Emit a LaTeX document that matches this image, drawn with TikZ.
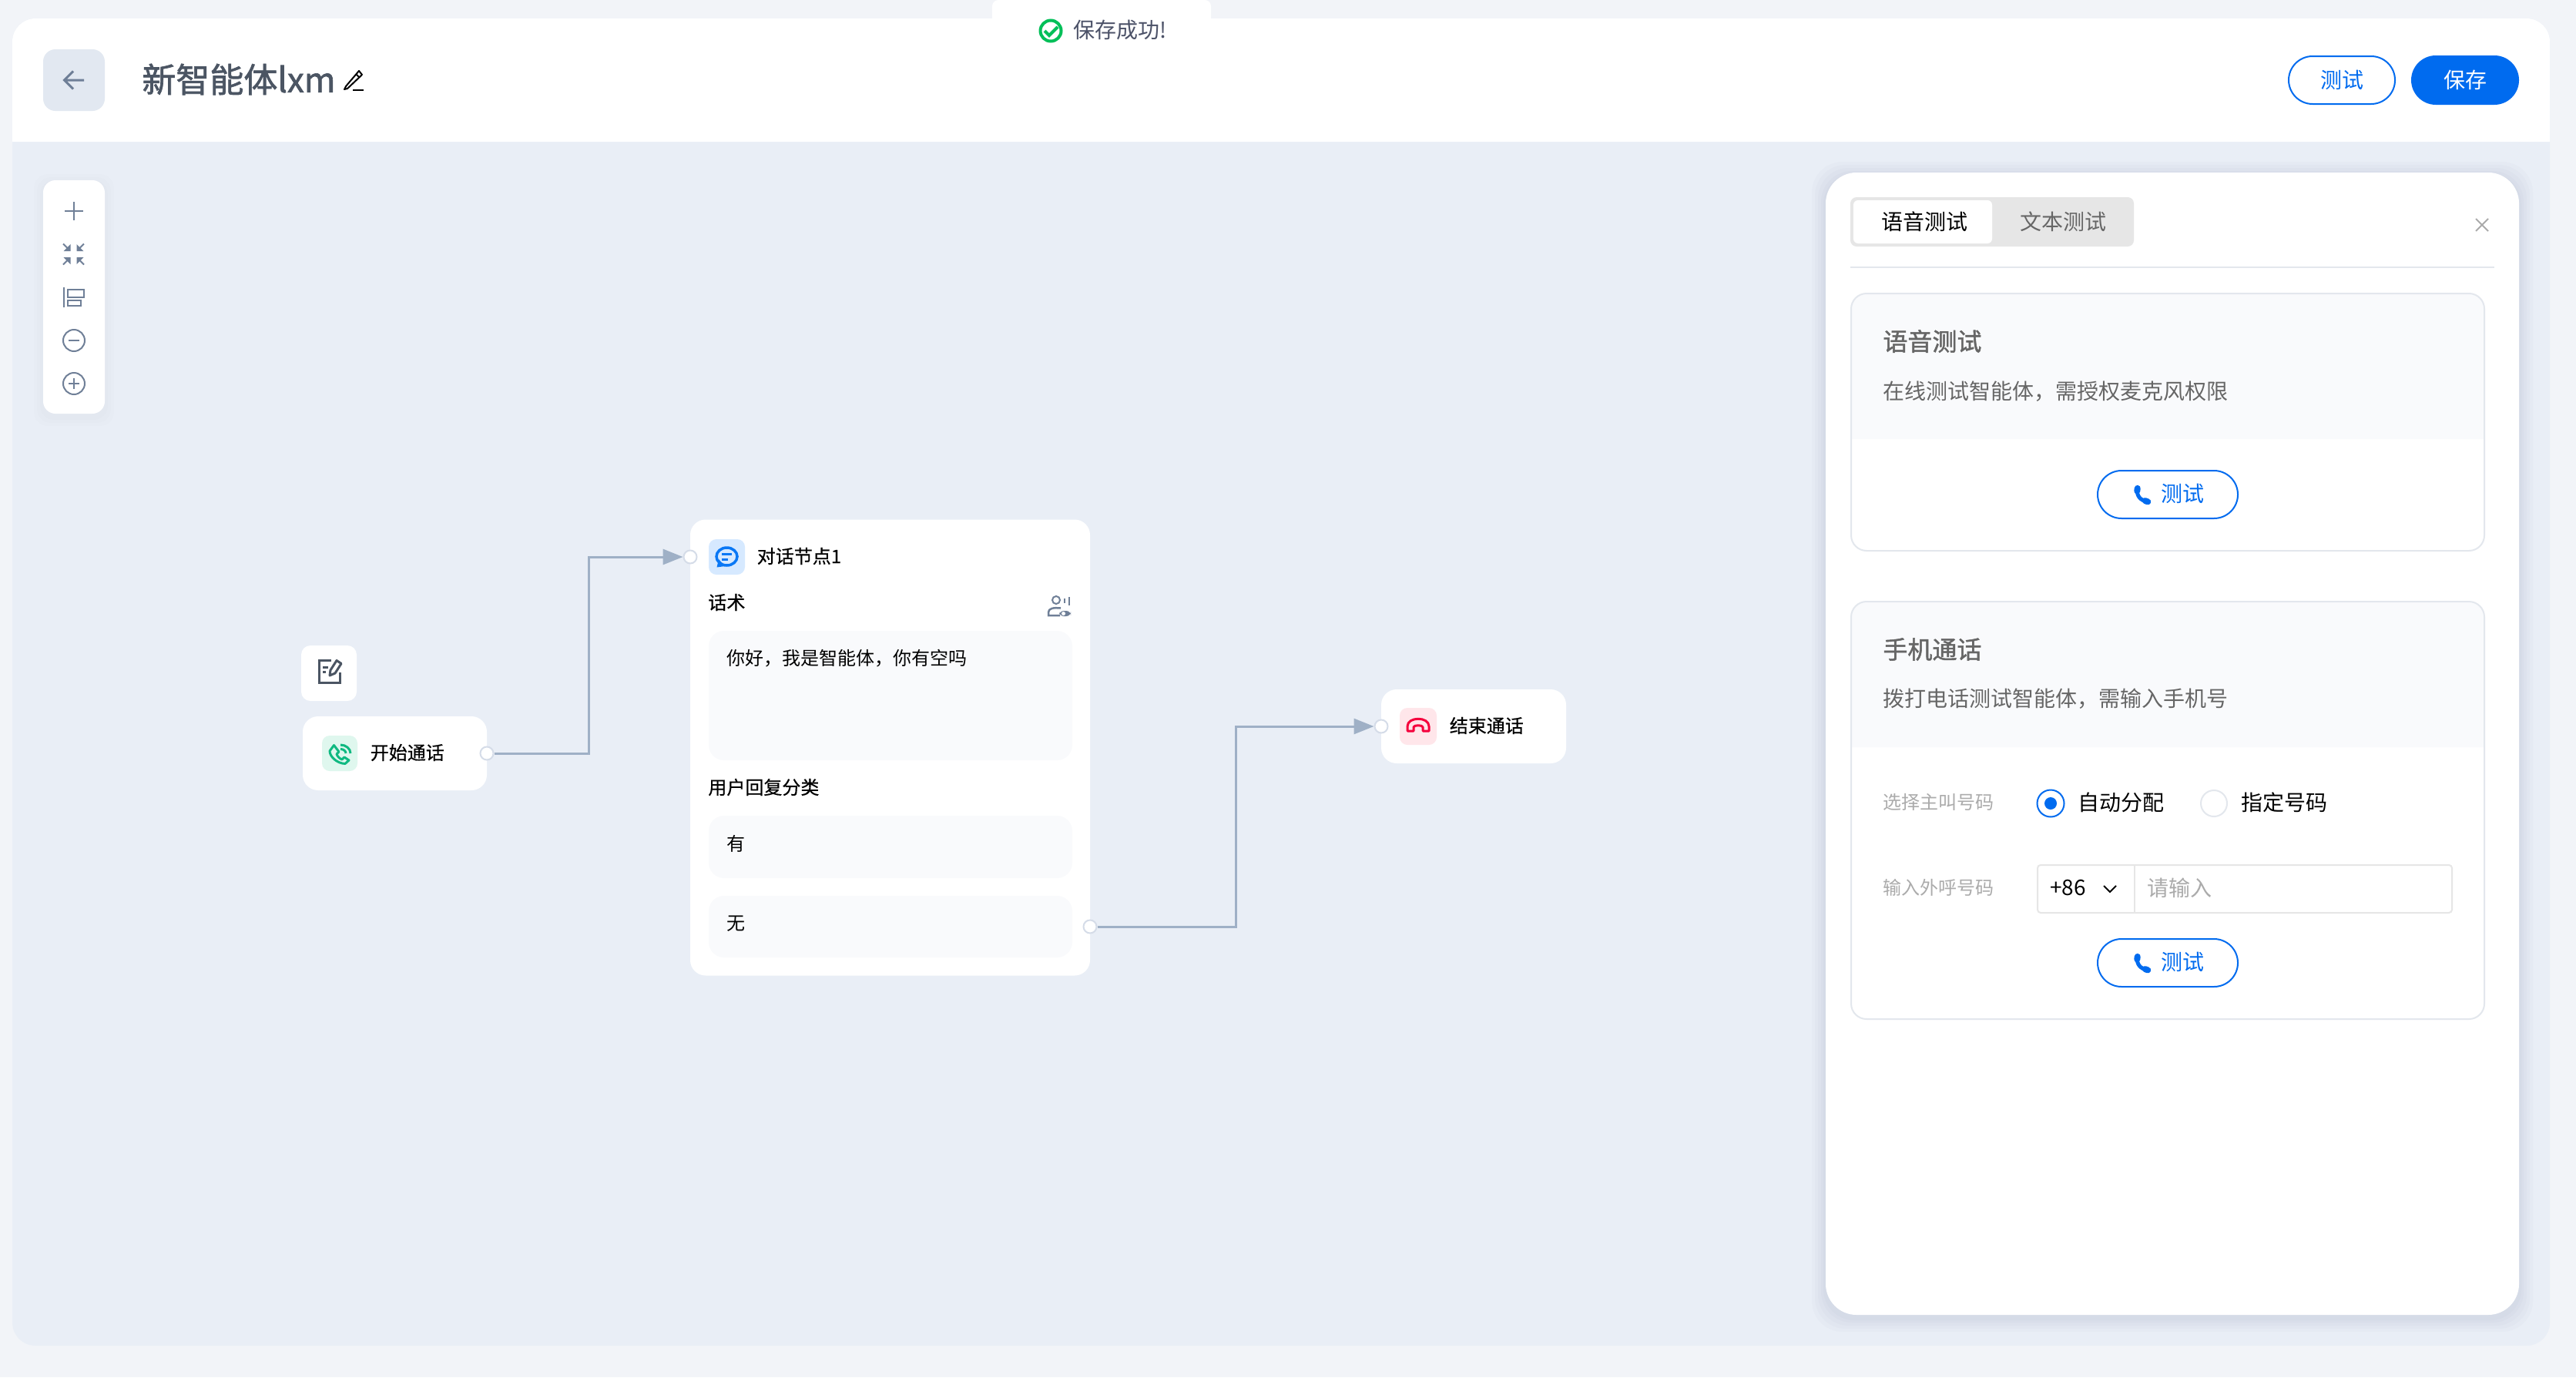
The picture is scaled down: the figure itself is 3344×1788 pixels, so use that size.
\documentclass[tikz,border=0pt]{standalone}
\usepackage{fontspec}
\setmainfont{Noto Sans CJK SC}
\newfontfamily\medfont[FakeBold=0.5]{Noto Sans CJK SC}
\newfontfamily\heavyfont[FakeBold=1.5]{Noto Sans CJK SC}
\usetikzlibrary{positioning}
\usetikzlibrary{arrows.meta}
\definecolor{pagebg}{HTML}{F2F4F8}
\definecolor{canvasbg}{HTML}{E9EEF6}
\definecolor{softbg}{HTML}{F9FAFC}
\definecolor{backbg}{HTML}{E2E8F1}
\definecolor{slate}{HTML}{6F7F97}
\definecolor{titleink}{HTML}{4B5563}
\definecolor{toastink}{HTML}{4C5268}
\definecolor{brand}{HTML}{006BEF}
\definecolor{chatblue}{HTML}{0A78F5}
\definecolor{flowline}{HTML}{9FB0C6}
\definecolor{portline}{HTML}{D5DCE8}
\definecolor{rimline}{HTML}{E3E7ED}
\definecolor{okgreen}{HTML}{00BF58}
\definecolor{callgreen}{HTML}{10B981}
\definecolor{callbg}{HTML}{DFF7EE}
\definecolor{chatbg}{HTML}{D6E9FF}
\definecolor{endred}{HTML}{F5003C}
\definecolor{endbg}{HTML}{FFE6EA}
\definecolor{tabbg}{HTML}{E6E6E6}
\definecolor{greyink}{HTML}{666666}
\definecolor{paleink}{HTML}{ABABAB}
\tikzset{%
  card/.style 2 args = {rectangle,fill=white,inner sep=0pt,rounded corners=10pt,
        minimum width=#1*0.5pt,minimum height=#2*0.5pt},
  iconbox/.style 2 args = {rectangle,inner sep=0pt,rounded corners=5pt,
        minimum width=#1*0.5pt,minimum height=#2*0.5pt},
  pill/.style = {rectangle,draw=brand,line width=1pt,fill=white,inner sep=0pt,
        rounded corners=15.5pt,minimum width=91pt,minimum height=31pt},
  port/.style = {circle,draw=portline,line width=1pt,fill=white,inner sep=0pt,
        minimum size=8.5pt},
  flow/.style = {draw=flowline,line width=1.5pt,-{Triangle[length=13pt,width=10pt]}},
  txt/.style = {inner sep=0pt,anchor=west,text=black,xshift=-0.5pt,yshift=0.5pt},
  f12/.style = {font=\fontsize{12pt}{14pt}\selectfont},
  f14/.style = {font=\fontsize{14pt}{16pt}\selectfont},
  m12/.style = {font=\fontsize{12pt}{14pt}\medfont},
  m16/.style = {font=\fontsize{16pt}{18pt}\heavyfont},
  tool/.style = {draw=slate,line width=1pt},
  handset/.pic = {
    \draw[line width=2.5pt,line cap=round] (-7,-8) .. controls (-9,2) and (-2,9) .. (7,10);
    \draw[line width=4pt,line cap=round] (-7,-9) -- (-7.5,-5);
    \draw[line width=4pt,line cap=round] (4,9) -- (8,10.5);
  }
}
\begin{document}
\begin{tikzpicture}[x=0.5pt,y=-0.5pt]
  \useasboundingbox (0,0) rectangle (3344,1788);
  \fill[pagebg] (0,0) rectangle (3344,1788);

  % main frame
  \fill[canvasbg,rounded corners=15pt] (16,24) rectangle (3310,1747);
  \fill[white] (16,184) {[rounded corners=15pt] -- (16,24) -- (3310,24)} -- (3310,184) -- cycle;
  \fill[white,rounded corners=4pt] (1288,0) rectangle (1572,80);

  % toast
  \node[circle,draw=okgreen,line width=2pt,minimum size=13.5pt,inner sep=0pt] (okmark) at (1364,40) {};
  \draw[okgreen,line width=2pt] (1356,40) -- (1362,46) -- (1373,35);
  \node[txt,f14,right=7.5pt of okmark,text=toastink] (toast) {保存成功!};

  % header
  \node[iconbox={80}{80},fill=backbg,rounded corners=8pt] (back) at (96,104) {};
  \draw[slate,line width=1.5pt] (109,104) -- (84,104) (95,92.5) -- (83.5,104) -- (95,115.5);
  \node[txt,text=titleink,font=\fontsize{22pt}{24pt}\heavyfont] (title) at (185,104) {新智能体lxm};
  \draw[black,line width=1pt,line join=round] (449,112) -- (447,116) -- (451,115) -- (470,97) -- (466,92) -- cycle (462,96) -- (467,101);
  \draw[black,line width=1pt] (458,116.5) -- (472,116.5);
  \node[pill,minimum width=69pt,minimum height=31pt] (testbtn) at (3040,104) {};
  \node[f14,text=brand,inner sep=0pt] (testtxt) at (testbtn) {测试};
  \node[iconbox={140}{64},fill=brand,rounded corners=16pt] (savebtn) at (3200,104) {};
  \node[f14,text=white,inner sep=0pt] (savetxt) at (savebtn) {保存};

  % toolbar
  \foreach \s in {12,8,4}
    \fill[slate,opacity=0.012,rounded corners=9pt] (56-\s,234-\s+4) rectangle (136+\s,537+\s+4);
  \node[card={80}{303},rounded corners=8pt] (toolbar) at (96,385.5) {};
  \draw[tool] (84,274) -- (108,274) (96,262) -- (96,286);
  \foreach \sx/\sy in {-1/-1,1/-1,-1/1,1/1}{
    \fill[slate] (95.5+4*\sx,330+4*\sy) -- ++(9*\sx,0) -- ++(-9*\sx,9*\sy) -- cycle;
    \draw[slate,line width=1pt] (95.5+5*\sx,330+5*\sy) -- (95.5+13.5*\sx,330+13.5*\sy);
  }
  \draw[tool] (83,372.5) -- (83,399);
  \draw[tool] (87.5,376) rectangle (108.5,386);
  \draw[tool] (87.5,389.5) rectangle (104.5,397);
  \draw[tool] (96,442) circle[radius=14];
  \draw[tool] (89,442) -- (103,442);
  \draw[tool] (96,498) circle[radius=14];
  \draw[tool] (89,498) -- (103,498) (96,491) -- (96,505);

  % flow nodes
  \node[card={72}{72},rounded corners=6pt] (editbox) at (427,874) {};
  \draw[titleink,line width=1.5pt] (430,857.5) -- (414.5,857.5) -- (414.5,886.5) -- (441,886.5) -- (441,873);
  \draw[titleink,line width=1.5pt] (419,866) -- (426,866) (419,872.5) -- (423,872.5);
  \draw[titleink,line width=1.5pt,line join=round] (428,877) -- (429,870) -- (437,857.5) -- (443,861.5) -- (435,874) -- cycle;

  \node[card={239}{96}] (start) at (512.5,978) {};
  \node[iconbox={46}{46},fill=callbg] (starticon) at (441,978) {};
  \draw[callgreen,line width=1.5pt,line join=round] (433.5,967.5) -- (440,976) -- (437,979) .. controls (438,982) and (441,985) .. (444,986) -- (447,983) -- (453,987) -- (448,991.5) .. controls (437,991) and (428,982) .. (428,975) -- cycle;
  \draw[callgreen,line width=1.5pt] (442,967) .. controls (449,967) and (455,972) .. (455,978)
    (442,972.5) .. controls (446,972.5) and (449,975) .. (449,978);
  \node[txt,m12,right=8.5pt of starticon] (starttxt) {开始通话};

  \node[card={519}{592}] (dialog) at (1155.5,970.5) {};
  \node[iconbox={47}{46},fill=chatbg] (dialogicon) at (943.5,723) {};
  \draw[chatblue,line width=1.75pt] (943.5,722.5) ellipse[x radius=13.5,y radius=11.5];
  \fill[chatblue] (930.5,736.5) -- (933,726) -- (941,735) -- cycle;
  \draw[chatblue,line width=1.5pt] (937,719) -- (950,719) (937,726) -- (945,726);
  \node[txt,m12,right=8pt of dialogicon] (dialogtxt) {对话节点1};
  \node[txt,m12] (scripttxt) at (920,783) {话术};
  \draw[slate,line width=1pt] (1371,779) circle[radius=5];
  \draw[slate,line width=1.25pt] (1376,799) -- (1361,799) -- (1361,795) .. controls (1361,790) and (1367,788.5) .. (1377,789.5);
  \fill[slate,rounded corners=3pt] (1375,793) rectangle (1390,800);
  \fill[white] (1380.5,796.5) circle[radius=2.5];
  \draw[slate,line width=1pt] (1382,777) -- (1382,783) (1387.5,775) -- (1387.5,786);
  \node[card={472}{168},fill=softbg] (scriptbox) at (1156,903) {};
  \node[txt,f12] (hellotxt) at (944,856) {你好，我是智能体，你有空吗};
  \node[txt,m12] (replytxt) at (920,1023) {用户回复分类};
  \node[card={472}{81},fill=softbg] (yesbox) at (1156,1099.5) {};
  \node[txt,f12] (yestxt) at (944,1096) {有};
  \node[card={472}{80},fill=softbg] (nobox) at (1156,1203) {};
  \node[txt,f12] (notxt) at (944,1200) {无};

  \node[card={240}{96}] (finish) at (1913,943) {};
  \node[iconbox={48}{48},fill=endbg] (finishicon) at (1841,943) {};
  \draw[endred,line width=1.5pt,line join=round] (1827,949) -- (1827,943) .. controls (1827,930) and (1855,930) .. (1855,943) -- (1855,949) -- (1847,949) -- (1847,944) .. controls (1847,941) and (1835,941) .. (1835,944) -- (1835,949) -- cycle;
  \node[txt,m12,right=8.5pt of finishicon] (finishtxt) {结束通话};

  % connectors
  \node[port] (startout) at (632,978) {};
  \node[port] (dialogin) at (896,723) {};
  \node[port] (dialogout) at (1415,1203) {};
  \node[port] (finishin) at (1793,943) {};
  \coordinate (bendone) at (764,850);
  \coordinate (bendtwo) at (1604,1100);
  \draw[flow] (startout) -| (bendone) |- (dialogin);
  \draw[flow] (dialogout) -| (bendtwo) |- (finishin);

  % test panel
  \foreach \s in {18,14,10,6,3}
    \fill[slate,opacity=0.03,rounded corners=20pt] (2370-\s,224-\s+4) rectangle (3270+\s,1707+\s+4);
  \node[card={900}{1483},rounded corners=20pt] (panel) at (2820,965.5) {};
  \node[iconbox={368}{64},fill=tabbg,rounded corners=4pt] (tabs) at (2586,288) {};
  \node[iconbox={180}{56},fill=white,rounded corners=3pt] (tabon) at (2496,288) {};
  \node[f14,inner sep=0pt] (tabvoice) at (2498,288) {语音测试};
  \node[f14,inner sep=0pt,text=greyink] (tabtext) at (2678,288) {文本测试};
  \draw[paleink,line width=1pt] (3214,284) -- (3230,300) (3230,284) -- (3214,300);
  \draw[rimline,line width=1pt] (2402,347) -- (3238,347);

  % voice card
  \node[card={822}{334}] (voicecard) at (2814,548) {};
  \fill[softbg] (2403,570) {[rounded corners=10pt] -- (2403,381) -- (3225,381)} -- (3225,570) -- cycle;
  \draw[rimline,line width=1pt,rounded corners=10pt] (2403,381) rectangle (3225,715);
  \node[txt,m16,text=greyink] (voicehead) at (2445,444) {语音测试};
  \node[txt,f14,text=greyink] (voicedesc) at (2445,509) {在线测试智能体，需授权麦克风权限};
  \node[pill] (voicebtn) at (2814,642) {};
  \pic[draw=brand,brand,scale=0.9] at (2781,642) {handset};
  \node[txt,f14,text=brand] (voicebtntxt) at (2806,642) {测试};

  % phone card
  \node[card={822}{542}] (phonecard) at (2814,1052) {};
  \fill[softbg] (2403,970) {[rounded corners=10pt] -- (2403,781) -- (3225,781)} -- (3225,970) -- cycle;
  \draw[rimline,line width=1pt,rounded corners=10pt] (2403,781) rectangle (3225,1323);
  \node[txt,m16,text=greyink] (phonehead) at (2445,844) {手机通话};
  \node[txt,f14,text=greyink] (phonedesc) at (2445,908) {拨打电话测试智能体，需输入手机号};
  \node[txt,f12,text=paleink] (callerlbl) at (2445,1042) {选择主叫号码};
  \node[circle,draw=brand,line width=1pt,fill=white,minimum size=17.5pt,inner sep=0pt] (radioauto) at (2662,1043) {};
  \fill[brand] (radioauto) circle[radius=8];
  \node[txt,f14,right=9pt of radioauto] (autotxt) {自动分配};
  \node[circle,draw=rimline,line width=1pt,fill=white,minimum size=17pt,inner sep=0pt] (radiofix) at (2874,1043) {};
  \node[txt,f14,right=9pt of radiofix] (fixtxt) {指定号码};
  \node[txt,f12,text=paleink] (dialllbl) at (2445,1153) {输入外呼号码};
  \node[rectangle,draw=tabbg,line width=1pt,rounded corners=2pt,minimum width=269pt,minimum height=31pt,inner sep=0pt] (inputbox) at (2914,1154) {};
  \draw[tabbg,line width=1pt] (2771,1124) -- (2771,1184);
  \node[txt,f14] (codetxt) at (2662,1154) {+86};
  \draw[black,line width=1pt] (2731,1150) -- (2739,1158) -- (2747,1150);
  \node[txt,f14,text=paleink] (hinttxt) at (2788,1154) {请输入};
  \node[pill] (phonebtn) at (2814,1250) {};
  \pic[draw=brand,brand,scale=0.9] at (2781,1250) {handset};
  \node[txt,f14,text=brand] (phonebtntxt) at (2806,1250) {测试};
\end{tikzpicture}
\end{document}
